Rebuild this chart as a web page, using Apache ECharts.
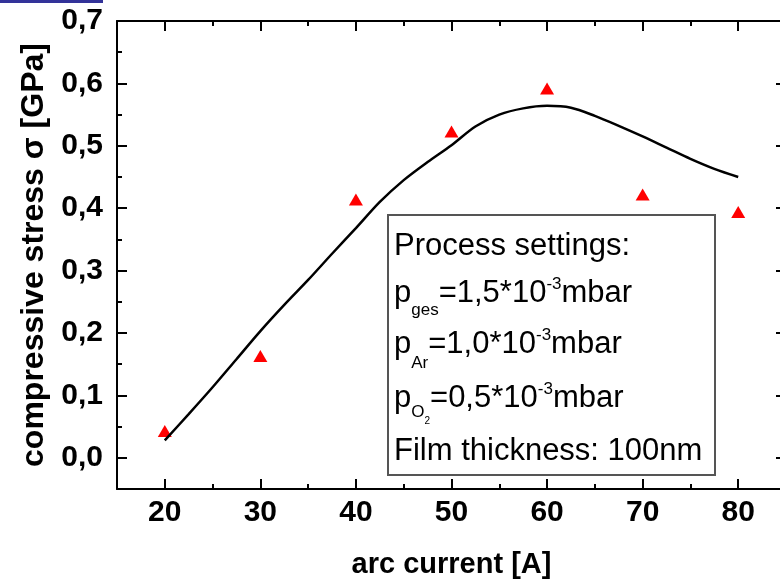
<!DOCTYPE html>
<html>
<head>
<meta charset="utf-8">
<script src="https://cdn.jsdelivr.net/npm/echarts@6/dist/echarts.min.js"></script>
<style>
  html, body { margin: 0; padding: 0; background: #fff; }
  #chart { width: 780px; height: 580px; }
</style>
</head>
<body>
<div id="chart"></div>
<script>
// Measured compressive stress vs. arc current
const arcCurrent = [20, 30, 40, 50, 60, 70, 80];
const stress = [0.043, 0.163, 0.414, 0.523, 0.592, 0.422, 0.394];

// Fitted trend curve
const fitX = [20, 22.5, 25, 27.5, 30, 32.5, 35, 37.5, 40, 42.5, 45, 47.5, 50,
              52.5, 55, 57.5, 60, 62.5, 65, 67.5, 70, 72.5, 75, 77.5, 80];
const fitY = [0.028, 0.070, 0.113, 0.158, 0.203, 0.245, 0.285, 0.327, 0.368, 0.410, 0.445, 0.474, 0.501,
              0.531, 0.550, 0.560, 0.564, 0.561, 0.548, 0.532, 0.515, 0.497, 0.479, 0.463, 0.450];

// Tick positions
const xMajorTicks = [20, 30, 40, 50, 60, 70, 80];
const xMinorTicks = [15, 25, 35, 45, 55, 65, 75, 85];
const yMajorTicks = [0, 0.1, 0.2, 0.3, 0.4, 0.5, 0.6, 0.7];
const yMinorTicks = [-0.05, 0.05, 0.15, 0.25, 0.35, 0.45, 0.55, 0.65];

const FONT = "'Liberation Sans', Arial, sans-serif";

const chart = echarts.init(document.getElementById('chart'), null, { renderer: 'canvas' });

function axisLineDef(withLine) {
  return withLine
    ? { show: true, onZero: false, lineStyle: { color: '#000', width: 2 } }
    : { show: false, onZero: false };
}

function xAxisDef(position, ticks, len, withLine, withLabel) {
  const a = {
    type: 'value', position: position, min: 15, max: 85,
    axisLine: axisLineDef(withLine),
    splitLine: { show: false },
    axisTick: { show: true, inside: true, length: len, customValues: ticks,
                lineStyle: { color: '#000', width: 2 } },
    axisLabel: { show: false }
  };
  if (withLabel) {
    a.axisLabel = { show: true, customValues: ticks, margin: 9,
      fontFamily: FONT, fontWeight: 'bold', fontSize: 30, color: '#000' };
    a.name = 'arc current [A]';
    a.nameLocation = 'middle';
    a.nameGap = 61;
    a.nameTextStyle = { fontFamily: FONT, fontWeight: 'bold', fontSize: 29, color: '#000' };
  }
  return a;
}

function yAxisDef(position, ticks, len, withLine, withLabel) {
  const a = {
    type: 'value', position: position, min: -0.05, max: 0.7,
    axisLine: axisLineDef(withLine),
    splitLine: { show: false },
    axisTick: { show: true, inside: true, length: len, customValues: ticks,
                lineStyle: { color: '#000', width: 2 } },
    axisLabel: { show: false }
  };
  if (withLabel) {
    a.axisLabel = { show: true, customValues: ticks, margin: 14,
      fontFamily: FONT, fontWeight: 'bold', fontSize: 30, color: '#000',
      formatter: v => v.toFixed(1).replace('.', ',') };
    a.name = 'compressive stress σ [GPa]';
    a.nameLocation = 'middle';
    a.nameGap = 60;
    a.nameTextStyle = { fontFamily: FONT, fontWeight: 'bold', fontSize: 32, color: '#000' };
  }
  return a;
}

// Settings box text, laid out piece by piece with sub- and superscripts
const measureCtx = document.createElement('canvas').getContext('2d');
function textWidth(t, size) {
  measureCtx.font = size + 'px ' + FONT;
  return measureCtx.measureText(t).width;
}
const MAIN = 31, SUB = 17, SUB2 = 10;
const boxLines = [
  { base: 257, parts: [{ t: 'Process settings:', s: MAIN, dy: 0 }] },
  { base: 304, parts: [{ t: 'p', s: MAIN, dy: 0 }, { t: 'ges', s: SUB, dy: 12 },
                       { t: '=1,5*10', s: MAIN, dy: 0 }, { t: '-3', s: SUB, dy: -14 },
                       { t: 'mbar', s: MAIN, dy: 0 }] },
  { base: 355, parts: [{ t: 'p', s: MAIN, dy: 0 }, { t: 'Ar', s: SUB, dy: 14 },
                       { t: '=1,0*10', s: MAIN, dy: 0 }, { t: '-3', s: SUB, dy: -14 },
                       { t: 'mbar', s: MAIN, dy: 0 }] },
  { base: 409, parts: [{ t: 'p', s: MAIN, dy: 0 }, { t: 'O', s: SUB, dy: 9 },
                       { t: '2', s: SUB2, dy: 16 },
                       { t: '=0,5*10', s: MAIN, dy: 0 }, { t: '-3', s: SUB, dy: -14 },
                       { t: 'mbar', s: MAIN, dy: 0 }] },
  { base: 462, parts: [{ t: 'Film thickness: 100nm', s: MAIN, dy: 0 }] }
];
const boxTexts = [];
boxLines.forEach(line => {
  let x = 394;
  line.parts.forEach(p => {
    boxTexts.push({
      type: 'text', z: 101, x: x, y: line.base + p.dy - 0.35 * p.s,
      style: { text: p.t, font: p.s + 'px ' + FONT, fill: '#000', verticalAlign: 'middle', align: 'left' }
    });
    x += textWidth(p.t, p.s);
  });
});

chart.setOption({
  animation: false,
  backgroundColor: '#fff',
  grid: { left: 117, top: 21, width: 669, height: 468, containLabel: false, outerBoundsMode: 'none' },
  xAxis: [
    xAxisDef('bottom', xMajorTicks, 10, true, true),
    xAxisDef('bottom', xMinorTicks, 5, false, false),
    xAxisDef('top', xMajorTicks, 10, true, false),
    xAxisDef('top', xMinorTicks, 5, false, false)
  ],
  yAxis: [
    yAxisDef('left', yMajorTicks, 10, true, true),
    yAxisDef('left', yMinorTicks, 5, false, false),
    yAxisDef('right', yMajorTicks, 10, true, false),
    yAxisDef('right', yMinorTicks, 5, false, false)
  ],
  series: [
    {
      type: 'line', xAxisIndex: 0, yAxisIndex: 0,
      data: fitX.map((x, i) => [x, fitY[i]]),
      smooth: 0.3, showSymbol: false,
      lineStyle: { color: '#000', width: 2.5 }
    },
    {
      type: 'scatter', xAxisIndex: 0, yAxisIndex: 0,
      data: arcCurrent.map((x, i) => [x, stress[i]]),
      symbol: 'triangle', symbolSize: [14, 12],
      itemStyle: { color: '#ff0000', opacity: 1 }
    }
  ],
  graphic: [
    { type: 'rect', z: 100, shape: { x: 0, y: 0, width: 103, height: 3 },
      style: { fill: '#333399' } },
    { type: 'rect', z: 100, shape: { x: 388, y: 215, width: 327, height: 260 },
      style: { fill: '#fff', stroke: '#555', lineWidth: 2 } }
  ].concat(boxTexts)
});
</script>
</body>
</html>
